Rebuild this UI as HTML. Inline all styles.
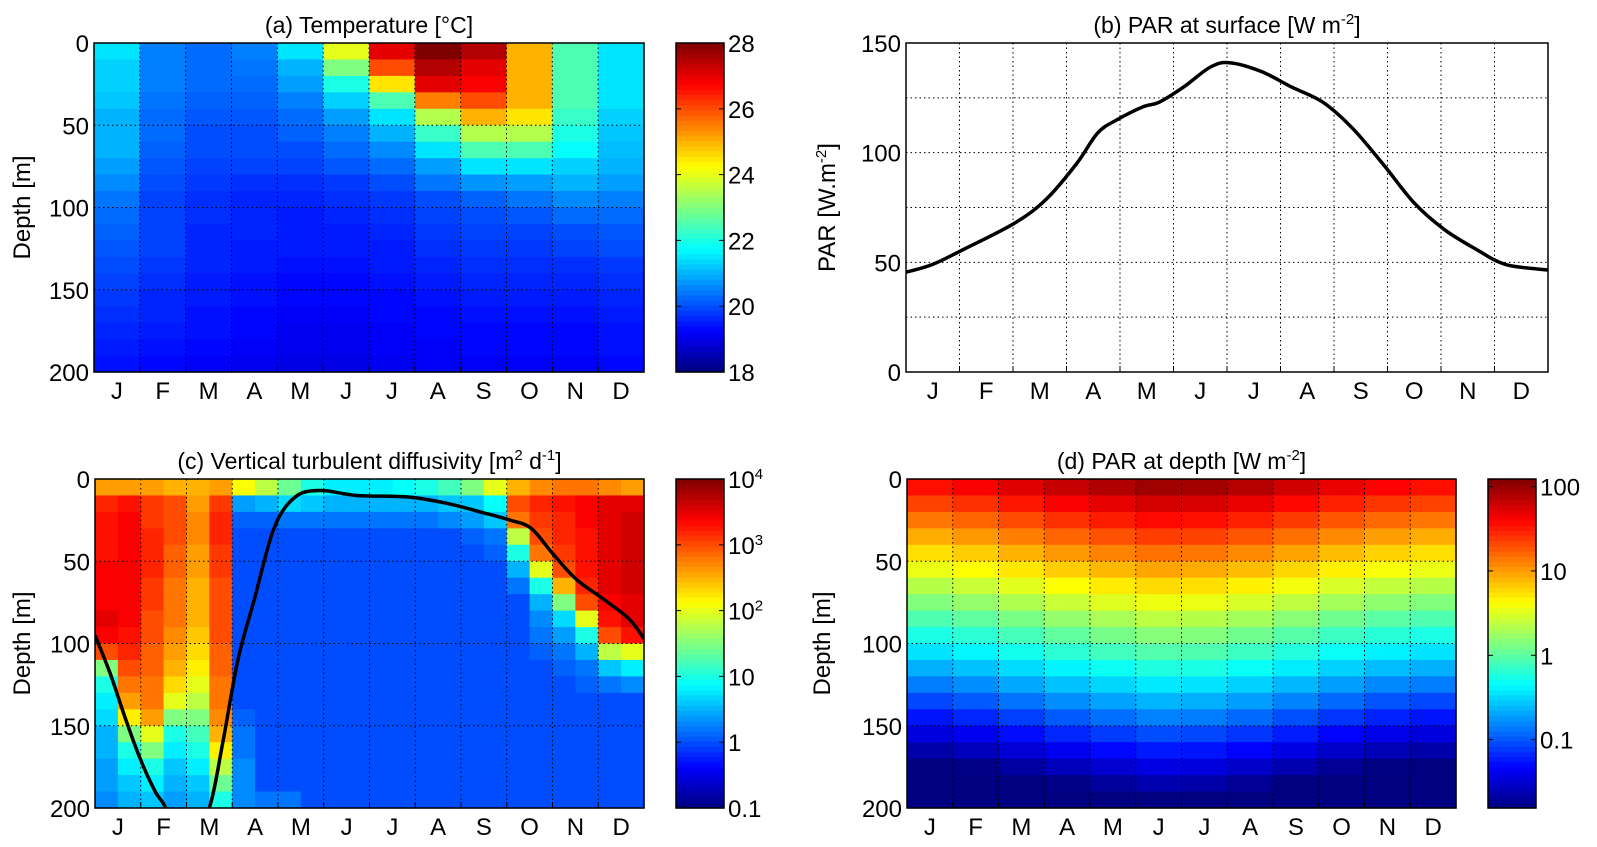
<!DOCTYPE html>
<html><head><meta charset="utf-8"><style>
html,body{margin:0;padding:0;background:#fff}
svg{display:block;font-family:"Liberation Sans",sans-serif}
</style></head><body>
<svg id="fig" width="1597" height="847" xmlns="http://www.w3.org/2000/svg">
<defs><clipPath id="clipC"><rect x="95" y="479" width="549" height="329"/></clipPath></defs>
</svg>
<script>
const months=['J','F','M','A','M','J','J','A','S','O','N','D'];
const depthTicks=[0,50,100,150,200];
const parTicks=[0,50,100,150];
const tempTicks=[18,20,22,24,26,28];
const kzTickExp=[-1,0,1,2,3,4];
const kzTickLabels=['0.1','1','10','10<tspan dy="-9" font-size="15">2</tspan>','10<tspan dy="-9" font-size="15">3</tspan>','10<tspan dy="-9" font-size="15">4</tspan>'];
const parDepthTicks=[-1,0,1,2];
const parDepthLabels=['0.1','1','10','100'];
// (a) temperature, rows = 10 m depth bins, cols = months
const tempRows=[
[21.5,20.5,20.3,20.5,21.5,24,27,28,27.5,25,22.5,21.5],
[21.3,20.5,20.3,20.4,21,23,26,27.5,27,25,22.5,21.5],
[21.3,20.5,20.3,20.3,20.8,22,24.5,27,26.8,25,22.5,21.5],
[21.2,20.4,20.2,20.2,20.5,21.3,22.5,25.5,26,25,22.5,21.5],
[21,20.3,20.1,20.1,20.3,20.8,21.5,23.5,25,24.5,22.3,21.3],
[21,20.3,20,20,20.2,20.5,21,22.3,23.5,23.5,22,21.2],
[21,20.2,20,20,20,20.3,20.6,21.5,22.5,22.5,21.8,21.1],
[20.8,20.1,19.9,19.9,19.9,20.1,20.3,20.8,21.5,21.5,21.3,21],
[20.6,20,19.8,19.7,19.7,19.8,20,20.4,20.7,20.8,21,20.8],
[20.4,19.9,19.7,19.6,19.6,19.7,19.8,20,20.2,20.4,20.6,20.5],
[20.3,19.9,19.7,19.6,19.5,19.6,19.7,19.9,20,20.1,20.3,20.3],
[20.2,19.9,19.6,19.6,19.5,19.5,19.6,19.8,19.9,19.9,20,20.1],
[20.1,19.9,19.6,19.5,19.5,19.5,19.5,19.7,19.8,19.8,19.9,20],
[20,19.8,19.6,19.5,19.4,19.4,19.5,19.6,19.7,19.7,19.7,19.8],
[19.9,19.7,19.5,19.4,19.3,19.3,19.4,19.5,19.6,19.6,19.6,19.7],
[19.8,19.6,19.5,19.4,19.3,19.3,19.3,19.4,19.5,19.5,19.5,19.6],
[19.7,19.6,19.4,19.3,19.2,19.2,19.3,19.3,19.4,19.4,19.4,19.5],
[19.6,19.5,19.4,19.3,19.1,19.1,19.2,19.3,19.3,19.3,19.3,19.4],
[19.5,19.4,19.3,19.2,19.1,19.1,19.2,19.2,19.3,19.3,19.3,19.4],
[19.4,19.3,19.2,19.1,19,19,19.1,19.2,19.2,19.2,19.2,19.3]];
// (b) surface PAR
const parDays=[0,15,33,62,80,97,109,120,135,144,158,173,184,202,219,237,254,271,289,306,324,341,365];
const parVals=[45.5,49,56,68,79,95,109,115,121,123,130,139,141,137,130,123,111,95,77,65,56,49,46.5];
// (c) log10 Kz, rows = 10 m bins, cols = half months
const kzRows=[
[2.6,2.6,2.6,2.5,2.5,2.6,2.1,1.8,1.4,1.0,0.8,0.8,0.8,0.9,1.0,1.2,1.5,2.0,2.5,2.7,2.8,2.8,2.7,2.6],
[3.2,3.3,3.1,3.0,2.6,3.1,0.4,0.5,0.7,0.6,0.5,0.5,0.5,0.5,0.5,0.6,0.6,0.9,3.0,3.2,3.3,3.4,3.5,3.5],
[3.3,3.4,3.1,3.0,2.7,3.2,0.1,0.1,0.2,0.2,0.2,0.2,0.2,0.2,0.2,0.3,0.4,0.6,2.8,3.1,3.2,3.4,3.5,3.6],
[3.3,3.4,3.2,3.0,2.7,3.2,0,0,0,0,0,0,0,0,0,0,0.1,0.2,1.8,3.0,3.2,3.3,3.5,3.6],
[3.3,3.4,3.2,2.9,2.6,3.1,0,0,0,0,0,0,0,0,0,0,0,0.1,1.0,2.8,3.1,3.3,3.5,3.6],
[3.4,3.4,3.2,2.9,2.6,3.1,0,0,0,0,0,0,0,0,0,0,0,0,0.5,2.0,3.0,3.3,3.5,3.6],
[3.4,3.4,3.1,2.8,2.5,3.0,0,0,0,0,0,0,0,0,0,0,0,0,0.2,1.0,2.5,3.2,3.5,3.6],
[3.4,3.4,3.1,2.8,2.5,3.0,0,0,0,0,0,0,0,0,0,0,0,0,0,0.5,1.5,3.0,3.4,3.5],
[3.5,3.4,3.0,2.8,2.5,3.0,0,0,0,0,0,0,0,0,0,0,0,0,0,0.3,0.7,2.0,3.3,3.5],
[3.4,3.3,3.0,2.7,2.4,3.0,0,0,0,0,0,0,0,0,0,0,0,0,0,0.2,0.4,1.0,3.0,3.3],
[3.0,3.2,2.9,2.6,2.3,2.9,0,0,0,0,0,0,0,0,0,0,0,0,0,0.1,0.2,0.5,1.8,2.0],
[1.5,3.0,2.9,2.5,2.2,2.9,0,0,0,0,0,0,0,0,0,0,0,0,0,0,0.1,0.2,0.6,0.8],
[1.0,2.8,2.8,2.3,2.0,2.8,0,0,0,0,0,0,0,0,0,0,0,0,0,0,0,0.1,0.2,0.3],
[0.8,2.6,2.8,2.0,1.8,2.8,0,0,0,0,0,0,0,0,0,0,0,0,0,0,0,0,0,0],
[0.7,2.2,2.6,1.5,1.5,2.7,0.1,0,0,0,0,0,0,0,0,0,0,0,0,0,0,0,0,0],
[0.5,1.5,2.0,1.0,1.2,2.5,0.2,0,0,0,0,0,0,0,0,0,0,0,0,0,0,0,0,0],
[0.5,1.0,1.5,0.8,1.0,2.2,0.2,0,0,0,0,0,0,0,0,0,0,0,0,0,0,0,0,0],
[0.4,0.8,1.0,0.6,0.8,1.8,0.3,0,0,0,0,0,0,0,0,0,0,0,0,0,0,0,0,0],
[0.4,0.6,0.8,0.5,0.6,1.4,0.3,0,0,0,0,0,0,0,0,0,0,0,0,0,0,0,0,0],
[0.3,0.5,0.6,0.4,0.5,1.0,0.3,0.2,0.2,0,0,0,0,0,0,0,0,0,0,0,0,0,0,0]];
// mixed layer depth line (c)
const mldDays=[0,10,20,30,40,47,61,76,85,95,106,119,133,150,174,209,235,256,276,290,304,320,338,355,365];
const mldDepth=[95,118,145,170,190,200,230,200,160,110,73,30,11,7,10,11,15,20,25,30,45,61,73,85,97];
// (d) log10 PAR at depth: surface value per month + depth offset per 10 m bin
const parSurfLog=[1.55,1.62,1.72,1.82,1.9,1.97,1.95,1.88,1.78,1.68,1.6,1.55];
const parDepthOffset=[0,-0.2,-0.4,-0.6,-0.8,-1.0,-1.2,-1.4,-1.6,-1.8,-2.0,-2.2,-2.4,-2.6,-2.8,-3.0,-3.2,-3.4,-3.6,-3.8];

const S='http://www.w3.org/2000/svg';
const svg=document.getElementById('fig');
const FS=24;
function el(tag,attrs,parent){const e=document.createElementNS(S,tag);for(const k in attrs)e.setAttribute(k,attrs[k]);(parent||svg).appendChild(e);return e;}
function jet(t){t=Math.max(0,Math.min(1,t));
 const r=Math.max(0,Math.min(1,1.5-Math.abs(4*t-3))),g=Math.max(0,Math.min(1,1.5-Math.abs(4*t-2))),b=Math.max(0,Math.min(1,1.5-Math.abs(4*t-1)));
 return `rgb(${Math.round(r*255)},${Math.round(g*255)},${Math.round(b*255)})`;}
function smoothPath(pts){let d=`M${pts[0][0]},${pts[0][1]}`;
 for(let i=0;i<pts.length-1;i++){const p0=pts[Math.max(0,i-1)],p1=pts[i],p2=pts[i+1],p3=pts[Math.min(pts.length-1,i+2)];
  const c1=[p1[0]+(p2[0]-p0[0])/6,p1[1]+(p2[1]-p0[1])/6],c2=[p2[0]-(p3[0]-p1[0])/6,p2[1]-(p3[1]-p1[1])/6];
  d+=` C${c1[0]},${c1[1]} ${c2[0]},${c2[1]} ${p2[0]},${p2[1]}`;}
 return d;}
function txt(x,y,s,size,anchor,name,parent){const t=el('text',{x:x,y:y,'font-size':size,'text-anchor':anchor||'middle',fill:'#000'},parent);t.innerHTML=s;return t;}

function panel(P,title,name){
 const g=el('g',{});
 
 
 P.g=g;
 P.sx=d=>P.x+d/365*P.w;
 txt(P.x+P.w/2,P.y-10,title,23,'middle',name+'-title',g);
 return g;}
function gridAndAxes(P,yTicks,yScale,gridY,name){
 const g=P.g;
 for(let m=1;m<12;m++){const x=P.x+m*P.w/12;
  const l=el('line',{x1:x,x2:x,y1:P.y,y2:P.y+P.h,stroke:'#000','stroke-width':1,'stroke-dasharray':'1.5,3'},g);
  
  el('line',{x1:x,x2:x,y1:P.y+P.h,y2:P.y+P.h-6,stroke:'#000'},g);}
 gridY.forEach(v=>{const y=yScale(v);
  const l=el('line',{x1:P.x,x2:P.x+P.w,y1:y,y2:y,stroke:'#000','stroke-width':1,'stroke-dasharray':'1.5,3'},g);
  });
 const fr=el('rect',{x:P.x,y:P.y,width:P.w,height:P.h,fill:'none',stroke:'#000','stroke-width':1.5},g);
 
 months.forEach((m,i)=>txt(P.x+(i+0.5)*P.w/12,P.y+P.h+27,m,FS,'middle','month-label',g));
 yTicks.forEach(v=>txt(P.x-5,yScale(v)+9,String(v),FS,'end','y-tick-label',g));
}
function heat(P,rows,colorOf,name){
 const g=el('g',{},P.g);
 
 const nr=rows.length;
 rows.forEach((row,r)=>{const nc=row.length;row.forEach((v,c)=>{
  const x0=P.x+c*P.w/nc,x1=P.x+(c+1)*P.w/nc,y0=P.y+r*P.h/nr,y1=P.y+(r+1)*P.h/nr;
  const rc=el('rect',{x:x0,y:y0,width:x1-x0+0.6,height:y1-y0+0.6,fill:colorOf(v)},g);
  });});
}
function colorbar(P,cx,vmin,vmax,ticks,labels,name){
 const g=el('g',{},P.g);
 
 const w=48,n=64;
 for(let i=0;i<n;i++){const y0=P.y+P.h-(i+1)*P.h/n;
  el('rect',{x:cx,y:y0,width:w,height:P.h/n+0.6,fill:jet((i+0.5)/n)},g);}
 el('rect',{x:cx,y:P.y,width:w,height:P.h,fill:'none',stroke:'#000','stroke-width':1.5},g);
 ticks.forEach((v,i)=>{const y=P.y+P.h-(v-vmin)/(vmax-vmin)*P.h;
  el('line',{x1:cx,x2:cx+5,y1:y,y2:y,stroke:'#000'},g);el('line',{x1:cx+w-5,x2:cx+w,y1:y,y2:y,stroke:'#000'},g);
  txt(cx+w+4,y+9,labels[i],FS,'start','colorbar-tick-label',g);});
}
function ylabel(x,P,s,name){const t=el('text',{x:0,y:0,'font-size':FS,'text-anchor':'middle',transform:`translate(${x},${P.y+P.h/2}) rotate(-90)`},P.g);t.innerHTML=s;}

// (a)
const A={x:94,y:43,w:550,h:329};
panel(A,'(a) Temperature [°C]','panel-a-temperature');
const aY=v=>A.y+v/200*A.h;
heat(A,tempRows,v=>jet((v-18)/10),'temperature-heatmap');
gridAndAxes(A,depthTicks,aY,[50,100,150],'panel-a');
ylabel(30,A,'Depth [m]','y-axis-title-a');
colorbar(A,676,18,28,tempTicks,tempTicks.map(String),'temperature-colorbar');

// (b)
const B={x:906,y:43,w:642,h:329};
panel(B,'(b) PAR at surface [W m<tspan dy="-9" font-size="15">-2</tspan><tspan dy="9">]</tspan>','panel-b-par-surface');
const bY=v=>B.y+B.h-v/150*B.h;
gridAndAxes(B,parTicks,bY,[25,50,75,100,125],'panel-b');
ylabel(835,B,'PAR [W.m<tspan dy="-9" font-size="15">-2</tspan><tspan dy="9">]</tspan>','y-axis-title-b');
{const pl=el('path',{d:smoothPath(parDays.map((d,i)=>[B.sx(d),bY(parVals[i])])),fill:'none',stroke:'#000','stroke-width':3.5,'stroke-linejoin':'round'},B.g);
}

// (c)
const C={x:95,y:479,w:549,h:329};
panel(C,'(c) Vertical turbulent diffusivity [m<tspan dy="-9" font-size="15">2</tspan><tspan dy="9"> d</tspan><tspan dy="-9" font-size="15">-1</tspan><tspan dy="9">]</tspan>','panel-c-diffusivity');
const cY=v=>C.y+v/200*C.h;
heat(C,kzRows,v=>jet((v+1)/5),'diffusivity-heatmap');
gridAndAxes(C,depthTicks,cY,[50,100,150],'panel-c');
ylabel(30,C,'Depth [m]','y-axis-title-c');
colorbar(C,676,-1,4,kzTickExp,kzTickLabels,'diffusivity-colorbar');
{const pl=el('path',{d:smoothPath(mldDays.map((d,i)=>[C.sx(d),cY(mldDepth[i])])),fill:'none',stroke:'#000','stroke-width':3.5,'stroke-linejoin':'round','clip-path':'url(#clipC)'},C.g);
}

// (d)
const D={x:907,y:479,w:549,h:329};
panel(D,'(d) PAR at depth [W m<tspan dy="-9" font-size="15">-2</tspan><tspan dy="9">]</tspan>','panel-d-par-depth');
const dY=v=>D.y+v/200*D.h;
const dMin=-1.81,dMax=2.09;
const dRows=parDepthOffset.map(o=>parSurfLog.map(s=>s+o));
heat(D,dRows,v=>jet((v-dMin)/(dMax-dMin)),'par-depth-heatmap');
gridAndAxes(D,depthTicks,dY,[50,100,150],'panel-d');
ylabel(830,D,'Depth [m]','y-axis-title-d');
colorbar(D,1488,dMin,dMax,parDepthTicks,parDepthLabels,'par-depth-colorbar');
</script>
</body></html>
